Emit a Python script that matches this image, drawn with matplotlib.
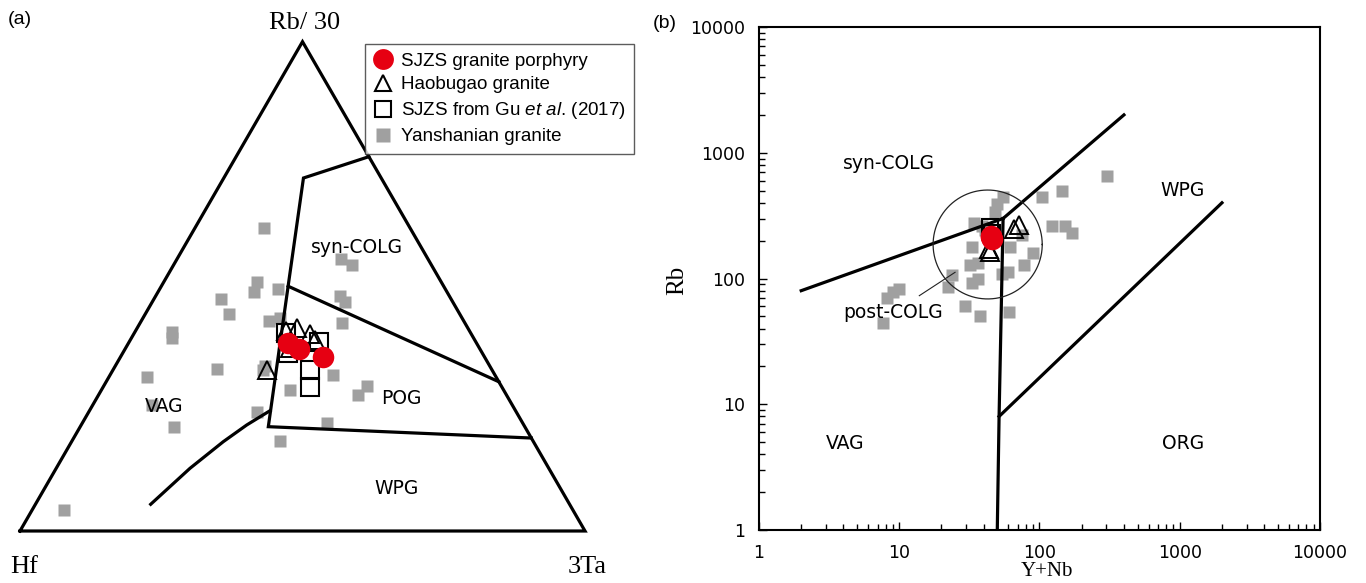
import numpy as np
import matplotlib
matplotlib.use('Agg')
import matplotlib.pyplot as plt
from matplotlib.lines import Line2D

plt.rcParams['mathtext.fontset'] = 'custom'
plt.rcParams['mathtext.it'] = 'Liberation Sans:italic'
plt.rcParams['mathtext.rm'] = 'Liberation Sans'
plt.rcParams['font.family'] = ['DejaVu Sans']

# ---------------- (a) Hf - Rb/30 - 3Ta ternary data (fractions) ----------------
yan_a_rb = [0.619, 0.555, 0.544, 0.508, 0.489, 0.495, 0.475, 0.444, 0.481, 0.468,
            0.407, 0.394, 0.430, 0.425, 0.315, 0.332, 0.337, 0.319, 0.296, 0.277,
            0.288, 0.244, 0.221, 0.212, 0.183, 0.043, 0.435, 0.258, 0.329]
yan_a_ta = [0.122, 0.290, 0.315, 0.165, 0.169, 0.210, 0.118, 0.148, 0.326, 0.341,
            0.066, 0.072, 0.226, 0.357, 0.067, 0.183, 0.266, 0.394, 0.466, 0.460,
            0.333, 0.297, 0.432, 0.167, 0.369, 0.056, 0.243, 0.104, 0.266]
yan_a_hf = [0.259, 0.155, 0.141, 0.327, 0.342, 0.295, 0.407, 0.408, 0.193, 0.191,
            0.527, 0.534, 0.344, 0.218, 0.618, 0.485, 0.397, 0.287, 0.238, 0.263,
            0.379, 0.459, 0.347, 0.621, 0.448, 0.901, 0.322, 0.638, 0.405]

gu_a_rb = [0.405, 0.387, 0.363, 0.329, 0.295]
gu_a_ta = [0.268, 0.335, 0.293, 0.349, 0.366]
gu_a_hf = [0.327, 0.278, 0.344, 0.322, 0.339]

hao_a_rb = [0.414, 0.402, 0.390, 0.329, 0.366, 0.409]
hao_a_ta = [0.284, 0.312, 0.327, 0.273, 0.286, 0.266]
hao_a_hf = [0.302, 0.286, 0.283, 0.398, 0.328, 0.325]

sjzs_a_rb = [0.384, 0.372, 0.356]
sjzs_a_ta = [0.283, 0.307, 0.359]
sjzs_a_hf = [0.333, 0.321, 0.285]

# field boundaries (Rb/30, 3Ta) fractions
bnd_syn_rb = [0.765, 0.7214, 0.5003, 0.2132, 0.190]
bnd_syn_ta = [0.235, 0.1410, 0.2244, 0.3329, 0.810]
bnd_pog_rb = [0.5003, 0.305]
bnd_pog_ta = [0.2244, 0.695]
bnd_wpg_rb = [0.0546, 0.1281, 0.1825, 0.2166, 0.2459]
bnd_wpg_ta = [0.2040, 0.2368, 0.2685, 0.2929, 0.3196]

# ---------------- (b) Rb vs Y+Nb data ----------------
yan_b_ynb = [304, 144, 105, 54.7, 49.5, 48.2, 122, 152, 170, 90, 77.5, 60, 53.7,
             60.6, 37.6, 29.4, 36.6, 32.9, 23.7, 22.4, 32, 36.6, 32.9, 40.7, 61.6,
             74.7, 9.07, 8.13, 9.9, 7.7, 38.9, 34]
yan_b_rb = [653, 496, 447, 447, 389, 340, 262, 262, 231, 159, 128, 113, 109,
            54.5, 50.3, 60.4, 100, 92.6, 107, 86, 128, 132, 179, 243, 179,
            222, 78.5, 69.6, 82, 44, 261, 275]
gu_b_ynb = [44.4, 45.5]
gu_b_rb = [255, 232]
hao_b_ynb = [71.8, 66.1, 43.5, 44.5]
hao_b_rb = [266, 246, 172, 162]
sjzs_b_ynb = [45.1, 45.5, 44.8]
sjzs_b_rb = [213, 208, 216]

# Pearce et al. (1984) boundaries
b_syn_vag_x = [2, 55]
b_syn_vag_y = [80, 300]
b_syn_wpg_x = [55, 400]
b_syn_wpg_y = [300, 2000]
b_vag_org_x = [55, 51.5, 50]
b_vag_org_y = [300, 8, 1]
b_wpg_org_x = [51.5, 2000]
b_wpg_org_y = [8, 400]
# post-COLG field (centre and radii in log units)
post_c = (42.7, 186.4)
post_r = (0.389, 0.433)

RED = '#e60012'
GRAY = '#a0a0a0'
LW = 2.3

W, H = 1366, 583
fig = plt.figure(figsize=(W / 100, H / 100), dpi=100)


def tern(rb, ta, hf):
    rb = np.asarray(rb, float); ta = np.asarray(ta, float); hf = np.asarray(hf, float)
    s = rb + ta + hf
    rb, ta = rb / s, ta / s
    return ta + rb / 2, rb * np.sqrt(3) / 2


def tern2(rb, ta):
    rb = np.asarray(rb, float); ta = np.asarray(ta, float)
    return ta + rb / 2, rb * np.sqrt(3) / 2


# ---------------- panel (a) ----------------
axL = fig.add_axes([0, 0, 640 / W, 1])
axL.set_xlim(-20 / 565, 620 / 565)
axL.set_ylim(-52 / 565, 531 / 565)
axL.axis('off')

tx, ty = tern2([0, 0, 1, 0], [0, 1, 0, 0])
axL.plot(tx, ty, color='k', lw=LW, solid_joinstyle='miter', zorder=3)
for rb, ta in [(bnd_syn_rb, bnd_syn_ta), (bnd_pog_rb, bnd_pog_ta), (bnd_wpg_rb, bnd_wpg_ta)]:
    x, y = tern2(rb, ta)
    axL.plot(x, y, color='k', lw=LW, solid_joinstyle='miter', zorder=3)

x, y = tern(yan_a_rb, yan_a_ta, yan_a_hf)
axL.plot(x, y, 's', color=GRAY, ms=8.6, mec='none', zorder=2)
x, y = tern(hao_a_rb, hao_a_ta, hao_a_hf)
axL.plot(x, y, '^', mfc='none', mec='k', ms=13, mew=1.4, zorder=4)
x, y = tern(gu_a_rb, gu_a_ta, gu_a_hf)
axL.plot(x, y, 's', mfc='none', mec='k', ms=13, mew=1.5, zorder=5)
x, y = tern(sjzs_a_rb, sjzs_a_ta, sjzs_a_hf)
axL.plot(x, y, 'o', color=RED, mec='none', ms=15.5, zorder=6)

lab_kw = dict(fontsize=13.5, ha='center', va='center', zorder=7)
axL.text(0.596, 0.501, 'syn-COLG', **lab_kw)
axL.text(0.255, 0.220, 'VAG', **lab_kw)
axL.text(0.675, 0.235, 'POG', **lab_kw)
axL.text(0.667, 0.076, 'WPG', **lab_kw)

serif = ['Liberation Serif', 'DejaVu Serif']
fig.text(305 / W, 1 - 23 / H, 'Rb/ 30', family=serif, fontsize=19, ha='center', va='center')
fig.text(24 / W, 1 - 567 / H, 'Hf', family=serif, fontsize=19, ha='center', va='center')
fig.text(587 / W, 1 - 567 / H, '3Ta', family=serif, fontsize=19, ha='center', va='center')
fig.text(8 / W, 1 - 20 / H, '(a)', family=['Liberation Sans'], fontsize=14, ha='left', va='center')
fig.text(653 / W, 1 - 23 / H, '(b)', family=['Liberation Sans'], fontsize=14, ha='left', va='center')

handles = [
    Line2D([], [], ls='none', marker='o', mfc=RED, mec='none', ms=15),
    Line2D([], [], ls='none', marker='^', mfc='none', mec='k', ms=12, mew=1.5),
    Line2D([], [], ls='none', marker='s', mfc='none', mec='k', ms=12, mew=1.5),
    Line2D([], [], ls='none', marker='s', mfc=GRAY, mec='none', ms=10),
]
labels = ['SJZS granite porphyry', 'Haobugao granite',
          r'SJZS from Gu $\it{et}$ $\it{al}$. (2017)', 'Yanshanian granite']
leg = axL.legend(handles, labels, loc='upper left', bbox_to_anchor=(365 / 640, 1 - 44 / H),
                 borderaxespad=0, frameon=True, fancybox=False, edgecolor='#333333',
                 prop={'family': 'Liberation Sans', 'size': 13.5}, handlelength=1.0,
                 handletextpad=0.45, labelspacing=0.36, borderpad=0.45)
leg.get_frame().set_linewidth(1.0)

# ---------------- panel (b) ----------------
axR = fig.add_axes([759 / W, 53 / H, 561 / W, 503 / H])
axR.set_xscale('log')
axR.set_yscale('log')
axR.set_xlim(1, 1e4)
axR.set_ylim(1, 1e4)

for xs, ys in [(b_syn_vag_x, b_syn_vag_y), (b_syn_wpg_x, b_syn_wpg_y),
               (b_vag_org_x, b_vag_org_y), (b_wpg_org_x, b_wpg_org_y)]:
    axR.plot(xs, ys, color='k', lw=LW, solid_joinstyle='miter', zorder=3)

t = np.linspace(0, 2 * np.pi, 200)
axR.plot(10 ** (np.log10(post_c[0]) + post_r[0] * np.cos(t)),
         10 ** (np.log10(post_c[1]) + post_r[1] * np.sin(t)), color='#222222', lw=0.9, zorder=3)
axR.plot([13.9, 25], [73, 112], color='#222222', lw=0.8, zorder=3)

axR.plot(yan_b_ynb, yan_b_rb, 's', color=GRAY, ms=8.6, mec='none', zorder=2)
axR.plot(hao_b_ynb, hao_b_rb, '^', mfc='none', mec='k', ms=13, mew=1.4, zorder=4)
axR.plot(gu_b_ynb, gu_b_rb, 's', mfc='none', mec='k', ms=11, mew=1.5, zorder=5)
axR.plot(sjzs_b_ynb, sjzs_b_rb, 'o', color=RED, mec='none', ms=15.5, zorder=6)

axR.text(8.4, 820, 'syn-COLG', **lab_kw)
axR.text(1055, 500, 'WPG', **lab_kw)
axR.text(9.0, 54, 'post-COLG', **lab_kw)
axR.text(4.1, 4.9, 'VAG', **lab_kw)
axR.text(1055, 4.9, 'ORG', **lab_kw)

ticks = [1, 10, 100, 1000, 10000]
tick_labels = ['1', '10', '100', '1000', '10000']
axR.set_xticks(ticks)
axR.set_xticklabels(tick_labels)
axR.set_yticks(ticks)
axR.set_yticklabels(tick_labels)
axR.xaxis.set_minor_locator(matplotlib.ticker.LogLocator(base=10, subs=np.arange(2, 10)))
axR.yaxis.set_minor_locator(matplotlib.ticker.LogLocator(base=10, subs=np.arange(2, 10)))
axR.xaxis.set_minor_formatter(matplotlib.ticker.NullFormatter())
axR.yaxis.set_minor_formatter(matplotlib.ticker.NullFormatter())
axR.tick_params(which='both', direction='in', top=False, right=False, labelsize=12.5, width=1.0)
axR.tick_params(which='major', length=6, pad=10)
axR.tick_params(which='minor', length=4)
for sp in axR.spines.values():
    sp.set_linewidth(1.5)

fig.text(677 / W, 1 - 280 / H, 'Rb', family=serif, fontsize=18, rotation=90, ha='center', va='center')
fig.text(1047 / W, 1 - 576 / H, 'Y+Nb', family=serif, fontsize=15, ha='center', va='baseline')

fig.savefig('out.png', dpi=100)
